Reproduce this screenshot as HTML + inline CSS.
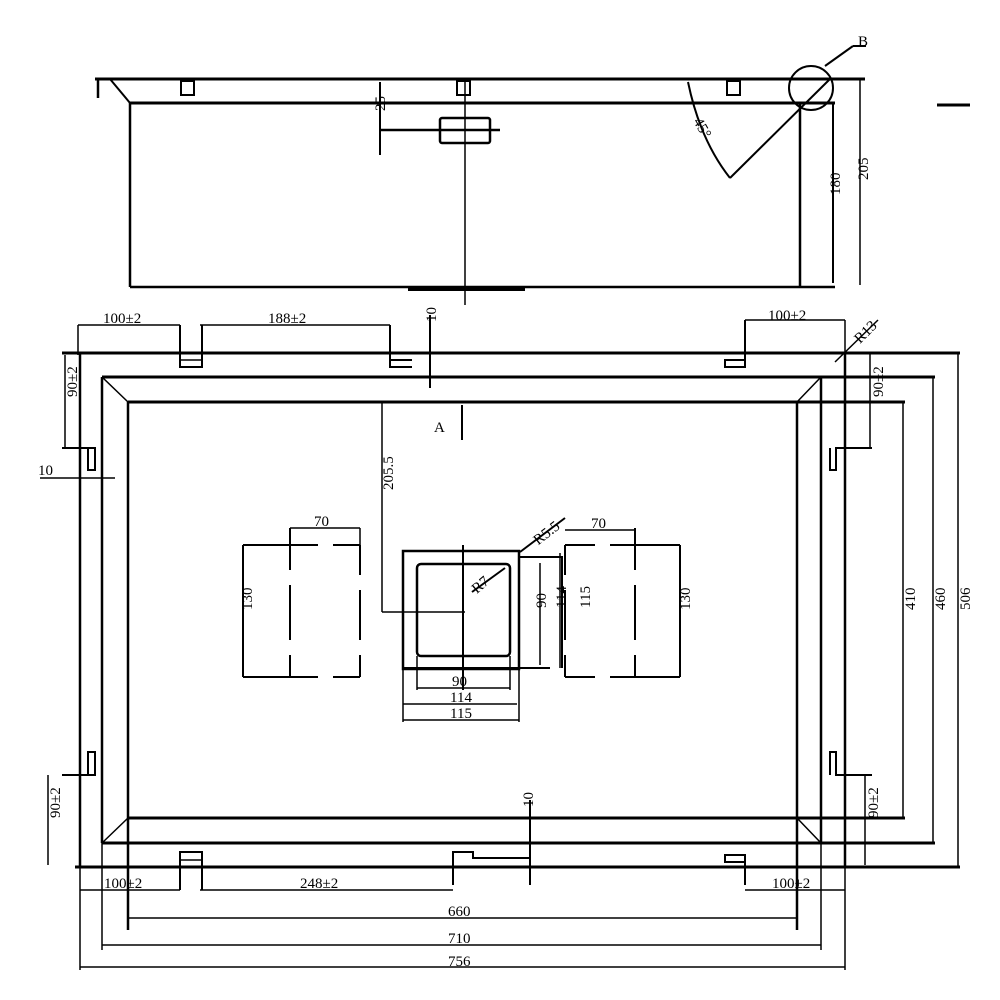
<!DOCTYPE html>
<html><head><meta charset="utf-8"><style>
html,body{margin:0;padding:0;background:#fff}
svg{display:block}
text{font-family:"Liberation Serif",serif;font-size:15px;fill:#000}
</style></head><body>
<svg width="1000" height="1000" viewBox="0 0 1000 1000" xmlns="http://www.w3.org/2000/svg">
<g stroke="#000" fill="none" stroke-width="1.5">
<!-- TOP VIEW -->
<line x1="95" y1="79" x2="865" y2="79" stroke-width="3"/>
<line x1="130" y1="103" x2="835" y2="103" stroke-width="3"/>
<line x1="98" y1="79" x2="98" y2="98" stroke-width="2.5"/>
<line x1="110" y1="79" x2="130" y2="103" stroke-width="2"/>
<line x1="130" y1="103" x2="130" y2="287" stroke-width="2.5"/>
<line x1="130" y1="287" x2="835" y2="287" stroke-width="2.5"/>
<line x1="800" y1="103" x2="800" y2="287" stroke-width="2.5"/>
<line x1="833" y1="103" x2="833" y2="283" stroke-width="2"/>
<line x1="860" y1="79" x2="860" y2="285" stroke-width="1.5"/>
<line x1="408" y1="289" x2="525" y2="289" stroke-width="4"/>
<line x1="465" y1="78" x2="465" y2="305" stroke-width="1.5"/>
<rect x="181" y="81" width="13" height="14" stroke-width="2"/>
<rect x="457" y="81" width="13" height="14" stroke-width="2"/>
<rect x="727" y="81" width="13" height="14" stroke-width="2"/>
<rect x="440" y="118" width="50" height="25" rx="2" stroke-width="2.5"/>
<line x1="380" y1="130" x2="500" y2="130" stroke-width="2.5"/>
<line x1="380" y1="82" x2="380" y2="155" stroke-width="2"/>
<path d="M688 82 Q700 140 730 178" stroke-width="2"/>
<line x1="730" y1="178" x2="830" y2="79" stroke-width="2"/>
<ellipse cx="811" cy="88" rx="22" ry="22" stroke-width="2"/>
<line x1="825" y1="66" x2="853" y2="46" stroke-width="2"/>
<line x1="853" y1="46" x2="866" y2="46" stroke-width="2"/>
<line x1="937" y1="105" x2="970" y2="105" stroke-width="3"/>

<!-- PLAN VIEW -->
<line x1="62" y1="353" x2="960" y2="353" stroke-width="3"/>
<line x1="75" y1="867" x2="960" y2="867" stroke-width="3"/>
<line x1="80" y1="353" x2="80" y2="867" stroke-width="2.5"/>
<line x1="845" y1="353" x2="845" y2="867" stroke-width="2.5"/>
<line x1="102" y1="377" x2="935" y2="377" stroke-width="3"/>
<line x1="102" y1="843" x2="935" y2="843" stroke-width="3"/>
<line x1="102" y1="377" x2="102" y2="843" stroke-width="2.5"/>
<line x1="821" y1="377" x2="821" y2="843" stroke-width="2.5"/>
<line x1="128" y1="402" x2="905" y2="402" stroke-width="3"/>
<line x1="128" y1="818" x2="905" y2="818" stroke-width="3"/>
<line x1="128" y1="402" x2="128" y2="930" stroke-width="2.5"/>
<line x1="797" y1="402" x2="797" y2="930" stroke-width="2.5"/>
<line x1="102" y1="377" x2="128" y2="402"/>
<line x1="821" y1="377" x2="797" y2="402"/>
<line x1="102" y1="843" x2="128" y2="818"/>
<line x1="821" y1="843" x2="797" y2="818"/>
<!-- tabs top -->
<path d="M180 325 V367 H202 V325" stroke-width="2"/><line x1="180" y1="360" x2="202" y2="360"/>
<path d="M390 325 V367 H412 M390 360 H412" stroke-width="2"/>
<path d="M745 320 V367 H725 V360 H745" stroke-width="2"/>
<!-- tabs bottom -->
<path d="M180 890 V852 H202 V890" stroke-width="2"/><line x1="180" y1="860" x2="202" y2="860"/>
<path d="M453 885 V852 H473 V858 H530" stroke-width="2"/>
<path d="M745 885 V855 H725 V862 H745" stroke-width="2"/>
<!-- side tabs -->
<path d="M62 448 H95 V470 H88 V448" stroke-width="2"/>
<path d="M62 775 H95 V752 H88 V775" stroke-width="2"/>
<path d="M872 448 H836 V470 H830 V448" stroke-width="2"/>
<path d="M872 775 H836 V752 H830 V775" stroke-width="2"/>
<line x1="40" y1="478" x2="115" y2="478"/>
<line x1="65" y1="355" x2="65" y2="448"/>
<line x1="48" y1="775" x2="48" y2="865"/>
<line x1="870" y1="353" x2="870" y2="448"/>
<line x1="865" y1="775" x2="865" y2="865"/>
<line x1="430" y1="315" x2="430" y2="388" stroke-width="2"/>
<line x1="530" y1="800" x2="530" y2="885" stroke-width="2"/>
<line x1="462" y1="405" x2="462" y2="440" stroke-width="2"/>
<!-- top dims -->
<line x1="78" y1="325" x2="180" y2="325"/>
<line x1="78" y1="325" x2="78" y2="355"/>
<line x1="200" y1="325" x2="390" y2="325"/>
<line x1="745" y1="320" x2="845" y2="320"/>
<line x1="845" y1="320" x2="845" y2="353"/>
<line x1="835" y1="362" x2="878" y2="320"/>
<!-- bottom dims -->
<line x1="80" y1="890" x2="180" y2="890"/>
<line x1="200" y1="890" x2="453" y2="890"/>
<line x1="745" y1="890" x2="845" y2="890"/>
<line x1="128" y1="918" x2="797" y2="918"/>
<line x1="102" y1="843" x2="102" y2="950"/>
<line x1="821" y1="843" x2="821" y2="950"/>
<line x1="102" y1="945" x2="821" y2="945"/>
<line x1="80" y1="867" x2="80" y2="970"/>
<line x1="845" y1="867" x2="845" y2="970"/>
<line x1="80" y1="967" x2="845" y2="967"/>
<!-- right dims -->
<line x1="958" y1="353" x2="958" y2="867"/>
<line x1="933" y1="377" x2="933" y2="843"/>
<line x1="903" y1="402" x2="903" y2="818"/>
<!-- 205.5 -->
<line x1="382" y1="402" x2="382" y2="612"/>
<line x1="382" y1="612" x2="465" y2="612"/>
<!-- left square -->
<path d="M243 545 H318 M333 545 H360 M243 677 H318 M333 677 H360 M243 545 V677" stroke-width="2"/>
<path d="M360 545 V575 M360 590 V640 M360 655 V677" stroke-width="2"/>
<path d="M290 528 V570 M290 585 V640 M290 655 V677" stroke-width="2"/>
<line x1="290" y1="528" x2="360" y2="528"/><line x1="360" y1="528" x2="360" y2="545"/>
<!-- right square -->
<path d="M565 545 H595 M610 545 H680 M565 677 H595 M610 677 H680 M680 545 V677" stroke-width="2"/>
<path d="M565 545 V575 M565 590 V640 M565 655 V677" stroke-width="2"/>
<path d="M635 528 V570 M635 585 V640 M635 655 V677" stroke-width="2"/>
<line x1="565" y1="530" x2="635" y2="530"/>
<!-- drain -->
<rect x="403" y="551" width="116" height="118" stroke-width="2.5"/>
<rect x="417" y="564" width="93" height="92" rx="4" stroke-width="2.5"/>
<line x1="403" y1="668" x2="550" y2="668" stroke-width="2"/>
<path d="M519 557 H562 V668" stroke-width="2"/>
<path d="M540 563 V665" stroke-width="1.5"/>
<path d="M560 553 V668" stroke-width="1.5"/>
<line x1="463" y1="545" x2="463" y2="690" stroke-width="2"/>
<line x1="417" y1="656" x2="417" y2="690"/>
<line x1="510" y1="656" x2="510" y2="690"/>
<line x1="417" y1="688" x2="510" y2="688"/>
<line x1="403" y1="704" x2="517" y2="704"/>
<line x1="403" y1="668" x2="403" y2="722"/>
<line x1="519" y1="668" x2="519" y2="722"/>
<line x1="403" y1="720" x2="519" y2="720"/>
<line x1="472" y1="592" x2="505" y2="568" stroke-width="2"/>
<line x1="520" y1="552" x2="565" y2="518" stroke-width="2"/>
</g>
<g>
<text x="858" y="46" font-size="17">B</text>
<text x="385" y="125" transform="rotate(-90 378 118)" font-size="14">25</text>
<text x="693" y="135" transform="rotate(60 705 128)" font-size="14">45°</text>
<text x="830" y="205" transform="rotate(-90 830 195)" font-size="14">180</text>
<text x="858" y="190" transform="rotate(-90 858 180)" font-size="14">205</text>
<text x="103" y="323">100±2</text>
<text x="268" y="323">188±2</text>
<text x="768" y="320">100±2</text>
<text x="850" y="340" transform="rotate(-45 860 330)" font-size="14">R13</text>
<text x="428" y="330" transform="rotate(-90 428 322)" font-size="13">10</text>
<text x="434" y="432" font-size="20">A</text>
<text x="60" y="420" transform="rotate(-90 57 400)" font-size="14">90±2</text>
<text x="866" y="420" transform="rotate(-90 863 400)" font-size="14">90±2</text>
<text x="38" y="475" font-size="14">10</text>
<text x="42" y="840" transform="rotate(-90 40 820)" font-size="14">90±2</text>
<text x="860" y="840" transform="rotate(-90 858 820)" font-size="14">90±2</text>
<text x="525" y="815" transform="rotate(-90 525 807)" font-size="13">10</text>
<text x="104" y="888">100±2</text>
<text x="300" y="888">248±2</text>
<text x="772" y="888">100±2</text>
<text x="448" y="916">660</text>
<text x="448" y="943">710</text>
<text x="448" y="966">756</text>
<text x="955" y="625" transform="rotate(-90 955 610)" font-size="14">506</text>
<text x="930" y="625" transform="rotate(-90 930 610)" font-size="14">460</text>
<text x="900" y="625" transform="rotate(-90 900 610)" font-size="14">410</text>
<text x="378" y="505" transform="rotate(-90 378 490)" font-size="14">205.5</text>
<text x="314" y="526" font-size="14">70</text>
<text x="591" y="528" font-size="14">70</text>
<text x="240" y="622" transform="rotate(-90 240 610)" font-size="14">130</text>
<text x="678" y="622" transform="rotate(-90 678 610)" font-size="14">130</text>
<text x="536" y="618" transform="rotate(-90 536 608)" font-size="14">90</text>
<text x="556" y="618" transform="rotate(-90 556 608)" font-size="14">114</text>
<text x="578" y="620" transform="rotate(-90 578 608)" font-size="14">115</text>
<text x="468" y="590" transform="rotate(-40 478 580)" font-size="14">R7</text>
<text x="530" y="538" transform="rotate(-38 545 530)" font-size="14">R5.5</text>
<text x="452" y="686" font-size="14">90</text>
<text x="450" y="702" font-size="14">114</text>
<text x="450" y="718" font-size="14">115</text>
</g>
</svg>
</body></html>
